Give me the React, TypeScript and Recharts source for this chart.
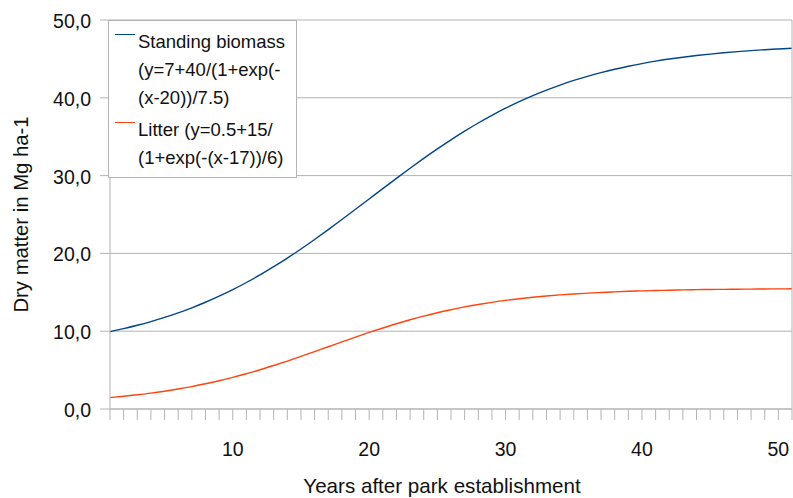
import { LineChart, Line, XAxis, YAxis, CartesianGrid, Legend } from 'recharts';

const years = [
  1, 2, 3, 4, 5, 6, 7, 8, 9, 10, 11, 12, 13, 14, 15, 16, 17, 18, 19, 20,
  21, 22, 23, 24, 25, 26, 27, 28, 29, 30, 31, 32, 33, 34, 35, 36, 37, 38, 39, 40,
  41, 42, 43, 44, 45, 46, 47, 48, 49, 50, 51,
];

const standingBiomass = [
  9.94, 10.33, 10.76, 11.24, 11.77, 12.36, 13.01, 13.72, 14.5, 15.34,
  16.26, 17.24, 18.29, 19.4, 20.57, 21.79, 23.05, 24.35, 25.67, 27.0,
  28.33, 29.65, 30.95, 32.21, 33.43, 34.6, 35.71, 36.76, 37.74, 38.66,
  39.5, 40.28, 40.99, 41.64, 42.23, 42.76, 43.24, 43.67, 44.06, 44.4,
  44.71, 44.98, 45.22, 45.43, 45.62, 45.79, 45.94, 46.07, 46.18, 46.28, 46.37,
];

const litter = [
  1.47, 1.64, 1.83, 2.04, 2.29, 2.57, 2.88, 3.24, 3.63, 4.06,
  4.53, 5.04, 5.59, 6.16, 6.76, 7.38, 8.0, 8.62, 9.24, 9.84,
  10.41, 10.96, 11.47, 11.94, 12.37, 12.76, 13.12, 13.43, 13.71, 13.96,
  14.17, 14.36, 14.53, 14.67, 14.79, 14.89, 14.98, 15.06, 15.13, 15.18,
  15.23, 15.27, 15.31, 15.34, 15.36, 15.38, 15.4, 15.41, 15.43, 15.44, 15.45,
];

const yTicks = [0, 10, 20, 30, 40, 50];

const standingName = 'Standing biomass\n(y=7+40/(1+exp(-\n(x-20))/7.5)';
const litterName = 'Litter (y=0.5+15/\n(1+exp(-(x-17))/6)';
const seriesOrder = ['standing', 'litter'];

const data = years.map((year, i) => ({
  year,
  standing: standingBiomass[i],
  litter: litter[i],
}));

const GRID = '#b3b3b3';
const FONT = '"Liberation Sans", Arial, sans-serif';

function LegendBox({ payload }: any) {
  // keep legend entries in series order, not alphabetical
  const items = [...(payload || [])].sort(
    (a: any, b: any) => seriesOrder.indexOf(a.dataKey) - seriesOrder.indexOf(b.dataKey)
  );
  return (
    <div
      style={{
        width: 189,
        height: 158,
        boxSizing: 'border-box',
        border: `1px solid ${GRID}`,
        background: '#fff',
        paddingTop: 7,
        fontFamily: FONT,
        fontSize: 18.5,
        color: '#111',
      }}
    >
      {items.map((entry: any, i: number) => (
        <div key={i} style={{ position: 'relative', paddingLeft: 29, marginBottom: 4 }}>
          <span
            style={{
              position: 'absolute',
              left: 6,
              top: 6,
              width: 20,
              height: 1,
              background: entry.color,
            }}
          />
          <div style={{ whiteSpace: 'pre-line', lineHeight: '28px' }}>{entry.value}</div>
        </div>
      ))}
    </div>
  );
}

export default function App() {
  return (
    <div style={{ position: 'absolute', left: 0, top: 0, fontFamily: FONT }}>
      <LineChart
        width={793}
        height={498}
        data={data}
        margin={{ top: 20, right: 0, bottom: 0, left: 0 }}
      >
        <CartesianGrid vertical={false} stroke={GRID} strokeWidth={1} />
        <XAxis
          dataKey="year"
          type="number"
          domain={[1, 51]}
          ticks={years}
          interval={0}
          height={89}
          tickSize={11}
          tickMargin={22}
          stroke={GRID}
          tick={{ fill: '#111', fontSize: 19.5 }}
          tickFormatter={(v: number) => (v % 10 === 0 ? String(v) : '')}
          label={{
            content: (p: any) => (
              <text
                x={p.viewBox.x + 332}
                y={p.viewBox.y + 84}
                textAnchor="middle"
                fill="#111"
                fontSize={20.6}
              >
                Years after park establishment
              </text>
            ),
          }}
        />
        <YAxis
          domain={[0, 50]}
          ticks={yTicks}
          interval={0}
          width={110}
          tickSize={10}
          tickMargin={9}
          stroke={GRID}
          tick={{ fill: '#111', fontSize: 19.5, dy: 1 }}
          tickFormatter={(v: number) => v.toFixed(1).replace('.', ',')}
          label={{
            content: (p: any) => {
              const cx = 28;
              const cy = p.viewBox.y + p.viewBox.height / 2;
              return (
                <text
                  x={cx}
                  y={cy}
                  transform={`rotate(-90, ${cx}, ${cy})`}
                  textAnchor="middle"
                  fill="#111"
                  fontSize={20.3}
                >
                  Dry matter in Mg ha-1
                </text>
              );
            },
          }}
        />
        <YAxis
          yAxisId="right"
          orientation="right"
          domain={[0, 50]}
          width={1}
          tick={false}
          tickLine={false}
          stroke={GRID}
        />
        <Legend
          layout="vertical"
          align="center"
          verticalAlign="middle"
          wrapperStyle={{ left: 108, top: 20, width: 189, height: 158 }}
          content={<LegendBox />}
        />
        <Line
          dataKey="standing"
          name={standingName}
          type="monotone"
          stroke="#004586"
          strokeWidth={1.4}
          dot={false}
          isAnimationActive={false}
        />
        <Line
          dataKey="litter"
          name={litterName}
          type="monotone"
          stroke="#ff420e"
          strokeWidth={1.4}
          dot={false}
          isAnimationActive={false}
        />
      </LineChart>
    </div>
  );
}
